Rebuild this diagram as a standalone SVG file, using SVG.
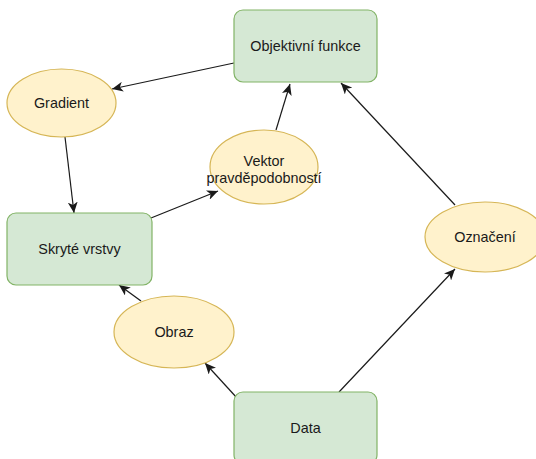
<svg xmlns="http://www.w3.org/2000/svg" width="536" height="459" viewBox="0 0 536 459">
  <defs>
    <marker id="arrow" markerUnits="userSpaceOnUse" markerWidth="12" markerHeight="10" refX="11" refY="5" orient="auto">
      <path d="M0,0 L11,5 L0,10 L3,5 Z" fill="#1a1a1a"/>
    </marker>
    <style>
      .box { fill: #d5e8d4; stroke: #82b366; stroke-width: 1.2; }
      .oval { fill: #fff2cc; stroke: #d6b656; stroke-width: 1.2; }
      .label { font-family: "Liberation Sans", Arial, sans-serif; font-size: 14.4px; fill: #1a1a1a; text-anchor: middle; }
      .edge { stroke: #1a1a1a; stroke-width: 1.2; fill: none; marker-end: url(#arrow); }
    </style>
  </defs>
  <rect width="536" height="459" fill="#ffffff"/>

  <!-- connectors -->
  <g id="edges">
    <line class="edge" x1="234" y1="63" x2="112" y2="89"/>
    <line class="edge" x1="65" y1="137" x2="74" y2="213"/>
    <line class="edge" x1="151" y1="218" x2="218" y2="191"/>
    <line class="edge" x1="276" y1="130" x2="290" y2="84"/>
    <line class="edge" x1="141" y1="301" x2="119" y2="285"/>
    <line class="edge" x1="237" y1="398" x2="205" y2="363"/>
    <line class="edge" x1="339" y1="392" x2="455" y2="269"/>
    <line class="edge" x1="455" y1="205" x2="341" y2="83"/>
  </g>

  <!-- nodes -->
  <g id="objektivni-funkce">
    <rect class="box" x="234" y="10" width="143" height="72" rx="9"/>
    <text class="label" x="305.5" y="51">Objektivní funkce</text>
  </g>
  <g id="gradient">
    <ellipse class="oval" cx="61.5" cy="103" rx="54.5" ry="34"/>
    <text class="label" x="61.5" y="108">Gradient</text>
  </g>
  <g id="vektor">
    <ellipse class="oval" cx="264" cy="167" rx="54" ry="37"/>
    <text class="label" x="264" y="166">Vektor</text>
    <text class="label" x="264" y="183">pravděpodobností</text>
  </g>
  <g id="skryte-vrstvy">
    <rect class="box" x="7" y="213" width="145" height="72" rx="9"/>
    <text class="label" x="79.5" y="254">Skryté vrstvy</text>
  </g>
  <g id="oznaceni">
    <ellipse class="oval" cx="485" cy="237" rx="60" ry="35"/>
    <text class="label" x="485" y="242">Označení</text>
  </g>
  <g id="obraz">
    <ellipse class="oval" cx="174" cy="332" rx="60" ry="36"/>
    <text class="label" x="174" y="337">Obraz</text>
  </g>
  <g id="data">
    <rect class="box" x="234" y="392" width="143" height="72" rx="9"/>
    <text class="label" x="305.5" y="433">Data</text>
  </g>
</svg>
